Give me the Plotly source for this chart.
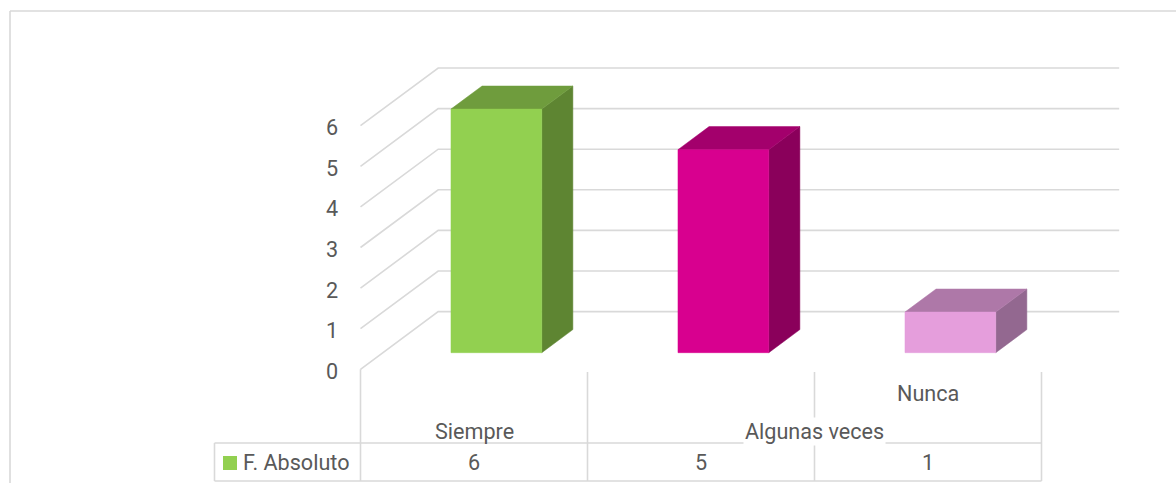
import plotly.graph_objects as go

# --- data -------------------------------------------------------------
categories = ["Siempre", "Algunas veces", "Nunca"]
values = [6, 5, 1]
series_name = "F. Absoluto"
tick_values = [0, 1, 2, 3, 4, 5, 6]

front_colors = ["#92D050", "#D8008F", "#E59EDC"]
top_colors = ["#6F9C3D", "#A3006C", "#AE78A8"]
side_colors = ["#5E8532", "#8A005B", "#936890"]

# --- geometry of the pseudo-3D view ----------------------------------
W, H = 1176, 483
PX_PER_CAT = 227.0      # horizontal pixels per category slot
X0_PX = 474.0           # pixel of first category centre (front)
PX_PER_UNIT = 40.6      # vertical pixels per value unit
Y0_PX = 369.3           # pixel of value 0 (front floor edge)

DEPTH_X = 77.7 / PX_PER_CAT      # floor depth vector, data units
DEPTH_Y = 57.7 / PX_PER_UNIT
BAR_F0, BAR_F1 = 0.288, 0.688    # bar front/back as fractions of depth
BAR_HALF = 0.2

x_range = [(0 - X0_PX) / PX_PER_CAT, (W - X0_PX) / PX_PER_CAT]
y_range = [(Y0_PX - H) / PX_PER_UNIT, (Y0_PX - 0) / PX_PER_UNIT]


def yv(py):
    """value-axis coordinate for a vertical pixel position"""
    return (Y0_PX - py) / PX_PER_UNIT


def xv(px):
    return (px - X0_PX) / PX_PER_CAT


GRID = "#D9D9D9"
TEXT = "#595959"
FONT = "Roboto, Arial, sans-serif"
FS = 21.6

fig = go.Figure()

left_edge = -0.5
right_edge = len(categories) - 0.5

# walls: side-wall diagonals and back-wall horizontals
for v in tick_values:
    fig.add_trace(go.Scatter(
        x=[left_edge, left_edge + DEPTH_X, right_edge + DEPTH_X],
        y=[v, v + DEPTH_Y, v + DEPTH_Y],
        mode="lines", line=dict(color=GRID, width=1.6),
        hoverinfo="skip", showlegend=False))

# 3D bars
for i, (cat, val) in enumerate(zip(categories, values)):
    ox0, oy0 = BAR_F0 * DEPTH_X, BAR_F0 * DEPTH_Y
    ox1, oy1 = BAR_F1 * DEPTH_X, BAR_F1 * DEPTH_Y
    xl, xr = i - BAR_HALF + ox0, i + BAR_HALF + ox0
    dxb, dyb = ox1 - ox0, oy1 - oy0
    front = ([xl, xr, xr, xl, xl], [oy0, oy0, oy0 + val, oy0 + val, oy0])
    top = ([xl, xr, xr + dxb, xl + dxb, xl],
           [oy0 + val, oy0 + val, oy0 + val + dyb, oy0 + val + dyb, oy0 + val])
    side = ([xr, xr + dxb, xr + dxb, xr, xr],
            [oy0, oy0 + dyb, oy0 + val + dyb, oy0 + val, oy0])
    for (px_, py_), col in ((side, side_colors[i]), (top, top_colors[i]),
                            (front, front_colors[i])):
        fig.add_trace(go.Scatter(
            x=px_, y=py_, mode="lines", fill="toself", fillcolor=col,
            line=dict(color=col, width=0.5), hoverinfo="skip",
            showlegend=False, name=cat))

shapes = []
annotations = []

# value-axis tick labels
for v in tick_values:
    annotations.append(dict(
        x=left_edge, y=v, xref="x", yref="y", text=str(v), showarrow=False,
        xanchor="right", yanchor="middle", xshift=-21, yshift=-2,
        font=dict(family=FONT, size=FS, color=TEXT)))

# data table
row_top = yv(443)
row_bot = yv(481)
head_top = yv(372)
legend_left = xv(214.5)

shapes.append(dict(type="line", xref="x", yref="y", x0=left_edge, x1=left_edge,
                   y0=0, y1=row_bot, line=dict(color=GRID, width=1.6)))
for k in range(1, len(categories) + 1):
    xb = k - 0.5
    shapes.append(dict(type="line", xref="x", yref="y", x0=xb, x1=xb,
                       y0=head_top, y1=row_bot, line=dict(color=GRID, width=1.6)))
shapes.append(dict(type="line", xref="x", yref="y", x0=legend_left, x1=legend_left,
                   y0=row_top, y1=row_bot, line=dict(color=GRID, width=1.6)))
for yy in (row_top, row_bot):
    shapes.append(dict(type="line", xref="x", yref="y", x0=legend_left, x1=right_edge,
                       y0=yy, y1=yy, line=dict(color=GRID, width=1.6)))

# legend key in the table
shapes.append(dict(type="rect", xref="x", yref="y", x0=xv(223), x1=xv(237),
                   y0=yv(470), y1=yv(456), fillcolor=front_colors[0],
                   line=dict(width=0)))
annotations.append(dict(x=xv(241), y=yv(462), xref="x", yref="y", text=series_name,
                        showarrow=False, xanchor="left", yanchor="middle",
                        font=dict(family=FONT, size=FS, color=TEXT)))

# category labels (staggered) and values
label_offsets = [0.0, 0.5, 0.0]
label_rows = [yv(431), yv(431), yv(393.5)]
for i, (cat, val) in enumerate(zip(categories, values)):
    annotations.append(dict(
        x=i + label_offsets[i], y=label_rows[i], xref="x", yref="y", text=cat,
        showarrow=False, xanchor="center", yanchor="middle",
        bgcolor="white" if label_offsets[i] else None,
        font=dict(family=FONT, size=FS, color=TEXT)))
    annotations.append(dict(
        x=i, y=yv(462.5), xref="x", yref="y", text=str(val), showarrow=False,
        xanchor="center", yanchor="middle",
        font=dict(family=FONT, size=FS, color=TEXT)))

# outer chart frame
shapes.append(dict(type="line", xref="paper", yref="paper", x0=10 / W, x1=1,
                   y0=1 - 11 / H, y1=1 - 11 / H, line=dict(color=GRID, width=1.6)))
shapes.append(dict(type="line", xref="paper", yref="paper", x0=10 / W, x1=10 / W,
                   y0=0, y1=1 - 11 / H, line=dict(color=GRID, width=1.6)))

fig.update_layout(
    width=W, height=H, autosize=False,
    margin=dict(l=0, r=0, t=0, b=0, pad=0),
    paper_bgcolor="white", plot_bgcolor="white",
    xaxis=dict(range=x_range, visible=False, fixedrange=True),
    yaxis=dict(range=y_range, visible=False, fixedrange=True),
    shapes=shapes, annotations=annotations, showlegend=False,
)

fig.write_html("out.html")
